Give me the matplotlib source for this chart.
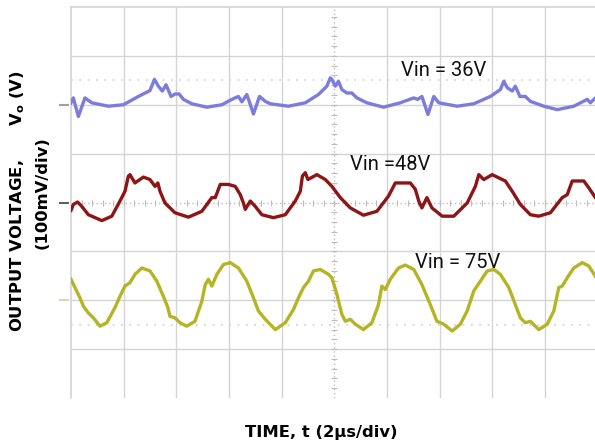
import matplotlib
matplotlib.use("Agg")
import matplotlib.pyplot as plt
import numpy as np

# ---- data (time in µs, voltage in mV relative to screen centre) ----
t_36 = [0.00, 0.09, 0.28, 0.53, 0.79, 1.42, 1.99, 2.56, 3.00, 3.17, 3.32, 3.47, 3.61, 3.80, 3.95, 4.11,
        4.27, 4.59, 5.16, 5.73, 6.11, 6.36, 6.49, 6.68, 6.77, 6.93, 7.16, 7.38, 7.57, 8.26, 8.90, 9.40,
        9.72, 9.85, 9.91, 10.04, 10.16, 10.29, 10.48, 10.67, 10.86, 11.24, 11.87, 12.51, 13.02, 13.17,
        13.33, 13.56, 13.78, 13.97, 14.67, 15.30, 15.93, 16.31, 16.44, 16.57, 16.76, 16.88, 17.05, 17.26,
        17.45, 17.96, 18.47, 19.10, 19.61, 19.73, 19.92, 20.02]
v_36 = [204, 214, 176, 214, 204, 197, 200, 217, 229, 252, 238, 228, 241, 217, 222, 222,
        211, 202, 195, 200, 211, 217, 206, 221, 207, 181, 217, 207, 202, 197, 204, 221,
        238, 255, 252, 238, 248, 231, 224, 224, 214, 204, 195, 204, 214, 211,
        217, 180, 217, 204, 197, 202, 217, 231, 248, 235, 228, 238, 217, 217,
        207, 197, 190, 197, 211, 204, 214, 217]

t_48 = [0.00, 0.09, 0.25, 0.41, 0.66, 1.17, 1.55, 1.86, 2.05, 2.18, 2.24, 2.43, 2.75, 3.00, 3.19, 3.30,
        3.38, 3.57, 3.95, 4.46, 4.97, 5.35, 5.48, 5.67, 5.98, 6.24, 6.43, 6.55, 6.62, 6.81, 7.00, 7.25,
        7.69, 8.14, 8.52, 8.71, 8.79, 8.90, 9.00, 9.34, 9.66, 9.91, 10.23, 10.61, 11.11, 11.62, 12.06,
        12.32, 12.89, 13.08, 13.21, 13.33, 13.52, 13.71, 14.10, 14.54, 15.05, 15.36, 15.49, 15.68, 16.00,
        16.38, 16.50, 16.76, 17.07, 17.45, 17.77, 18.21, 18.66, 18.85, 19.04, 19.48, 19.67, 19.92, 20.02]
v_48 = [-16, -4, 1, -8, -25, -37, -28, 3, 23, 54, 57, 40, 52, 47, 33, 40,
        23, -1, -21, -30, -18, 10, 10, 37, 37, 33, 16, -1, -14, 3, -8, -25,
        -31, -25, 3, 23, 54, 61, 47, 57, 47, 33, 10, -11, -26, -18, 13,
        40, 40, 27, 3, -11, 10, -11, -28, -28, -1, 33, 57, 47, 57,
        47, 44, 23, -4, -25, -28, -21, 10, 16, 44, 44, 30, 10, 4]

t_75 = [0.00, 0.15, 0.34, 0.47, 0.66, 0.85, 1.10, 1.36, 1.67, 1.86, 2.05, 2.24, 2.43, 2.69, 3.00, 3.26,
        3.51, 3.68, 3.76, 3.95, 4.14, 4.40, 4.71, 4.97, 5.10, 5.22, 5.35, 5.54, 5.79, 6.05, 6.36, 6.68,
        6.93, 7.12, 7.38, 7.76, 8.14, 8.45, 8.64, 8.83, 9.02, 9.21, 9.47, 9.78, 9.91, 10.10, 10.29,
        10.42, 10.61, 10.80, 11.11, 11.43, 11.68, 11.81, 11.94, 12.13, 12.44, 12.70, 13.02, 13.33,
        13.65, 13.90, 14.16, 14.48, 14.79, 15.05, 15.30, 15.55, 15.81, 16.06, 16.31, 16.63, 16.88,
        17.07, 17.26, 17.45, 17.77, 18.09, 18.34, 18.53, 18.66, 18.85, 19.10, 19.42, 19.67, 19.92, 20.02]
v_75 = [-157, -174, -195, -212, -226, -236, -253, -246, -215, -192, -171, -164, -147, -134, -140, -161,
        -192, -215, -233, -236, -246, -253, -243, -202, -168, -157, -171, -147, -127, -123, -134, -161,
        -195, -222, -239, -260, -246, -219, -195, -174, -161, -140, -137, -147, -154, -188, -229,
        -243, -239, -249, -260, -246, -209, -171, -178, -157, -134, -128, -137, -168,
        -209, -243, -249, -263, -249, -222, -181, -161, -140, -137, -147, -174, -209,
        -236, -246, -243, -260, -249, -222, -174, -171, -154, -134, -123, -130, -151, -160]

labels = ["Vin = 36V", "Vin =48V", "Vin = 75V"]
label_t = [14.14, 12.13, 14.68]
label_v = [271, 78, -123]
channel_levels = [200, 0, -200]

c_blue = "#7c7cdc"
c_red = "#8e1515"
c_yel = "#b4b424"
grid_c = "#d4d4d4"

fig = plt.figure(figsize=(5.95, 4.46), dpi=100)
ax = fig.add_axes([71 / 595, 1 - 398 / 446, 526.5 / 595, 391 / 446])
ax.set_xlim(0, 20)
ax.set_ylim(-400, 400)

# grid
for gx in np.arange(2, 20, 2):
    if gx == 10:
        continue
    ax.axvline(gx, color=grid_c, lw=1.0, zorder=1)
for gy in np.arange(-300, 400, 100):
    if gy == 0:
        continue
    ax.axhline(gy, color=grid_c, lw=1.0, zorder=1)
# centre lines with minor ticks
ax.axvline(10, color="#bdbdbd", lw=1.0, ls=(0, (1, 2)), zorder=1)
ax.axhline(0, color="#bdbdbd", lw=1.0, ls=(0, (1, 2)), zorder=1)
yt = np.arange(-380, 400, 20)
ax.plot(np.full_like(yt, 10.0, dtype=float), yt, ls="none", marker="_", ms=4, mew=0.8, color="#bdbdbd", zorder=1)
xt = np.arange(0.4, 20, 0.4)
ax.plot(xt, np.zeros_like(xt), ls="none", marker="|", ms=4, mew=0.8, color="#bdbdbd", zorder=1)
# cursor dotted lines
ax.axhline(250, color="#cfcfcf", lw=1.2, ls=(0, (1, 4)), zorder=1)
ax.axhline(-250, color="#cfcfcf", lw=1.2, ls=(0, (1, 4)), zorder=1)

# traces
ax.plot(t_36, v_36, color=c_blue, lw=2.4, zorder=3, solid_joinstyle="round")
ax.plot(t_48, v_48, color=c_red, lw=2.4, zorder=3, solid_joinstyle="round")
ax.plot(t_75, v_75, color=c_yel, lw=2.4, zorder=3, solid_joinstyle="round")

# channel markers on the left edge
for lvl, col in zip(channel_levels, ["#a0a0a8", "#606060", "#d8d8b0"]):
    ax.plot([-0.25], [lvl], marker="_", ms=7, mew=1.5, color=col, clip_on=False, zorder=4)

# annotations
tfont = ["Roboto", "Liberation Sans", "DejaVu Sans"]
for lab, lt, lv in zip(labels, label_t, label_v):
    ax.text(lt, lv, lab, fontsize=14.5, family=tfont, ha="center", va="center", color="#111111", zorder=5)

for s in ["top", "left"]:
    ax.spines[s].set_color(grid_c)
    ax.spines[s].set_linewidth(1.2)
for s in ["right", "bottom"]:
    ax.spines[s].set_visible(False)
ax.set_xticks([])
ax.set_yticks([])

# axis labels
fig.text(321.5 / 595, 1 - 433 / 446, "TIME, t (2µs/div)", fontsize=11.8, fontweight="bold",
         ha="center", va="center", family="DejaVu Sans")
fig.text(18 / 595, 1 - 201 / 446, r"OUTPUT VOLTAGE,      $\mathbf{V_o}$ (V)", fontsize=11.8,
         fontweight="bold", rotation=90, ha="center", va="center", family="DejaVu Sans")
fig.text(42 / 595, 1 - 193 / 446, "(100mV/div)", fontsize=11.8, fontweight="bold", rotation=90,
         ha="center", va="center", family="DejaVu Sans")

fig.savefig("out.png", dpi=100)
